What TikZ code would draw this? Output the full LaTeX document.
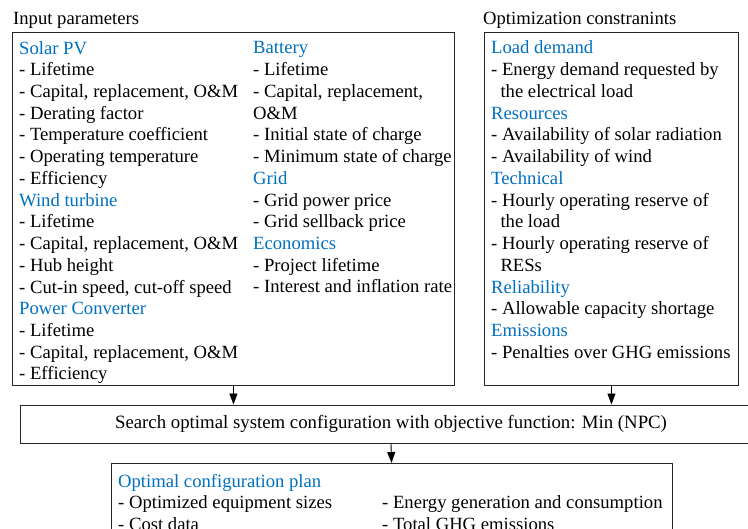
\documentclass[tikz,border=0pt]{standalone}
\usepackage{fontspec}
\setmainfont{Liberation Serif}
\usepackage{tikz}
\usetikzlibrary{arrows.meta,positioning}
\definecolor{headblue}{HTML}{0070C0}
\newcommand{\hd}[1]{\textcolor{headblue}{#1}}

\begin{document}
\begin{tikzpicture}[x=1pt,y=-1pt,
    box/.style={draw=black!85,line width=0.9pt,inner sep=0pt},
    txt/.style={inner sep=0pt,align=left,anchor=base west,
      font=\fontsize{18.65}{21.73}\selectfont},
    flow/.style={line width=0.9pt,-{Triangle[length=11pt,width=8pt]}}]
  \clip (0,0) rectangle (748,529);

  \node[txt] (inlabel) at (13,25) {Input parameters};
  \node[txt] (limlabel) at (483,25) {Optimization constranints};

  \node[box,anchor=north west,minimum width=442,minimum height=353] (inputs) at (12,32) {};
  \node[box,anchor=north west,minimum width=254,minimum height=353] (limits) at (484,32) {};
  \node[box,minimum width=742,minimum height=38,
    font=\fontsize{18.8}{21.73}\selectfont] (search) at (391,424)
    {Search optimal system configuration with objective function: Min (NPC)};
  \node[box,anchor=north,minimum width=561,minimum height=100] (plan) at (391.5,463) {};

  % columns are placed by the baseline of their last line
  \node[txt] (pvcol) at (19,380) {\hd{Solar PV}\\
    - Lifetime\\
    - Capital, replacement, O\&M\\
    - Derating factor\\
    - Temperature coefficient\\
    - Operating temperature\\
    - Efficiency\\
    \hd{Wind turbine}\\
    - Lifetime\\
    - Capital, replacement, O\&M\\
    - Hub height\\
    - Cut-in speed, cut-off speed\\
    \hd{Power Converter}\\
    - Lifetime\\
    - Capital, replacement, O\&M\\
    - Efficiency};
  \node[txt] (batcol) at (253,293) {\hd{Battery}\\
    - Lifetime\\
    - Capital, replacement,\\
    O\&M\\
    - Initial state of charge\\
    - Minimum state of charge\\
    \hd{Grid}\\
    - Grid power price\\
    - Grid sellback price\\
    \hd{Economics}\\
    - Project lifetime\\
    - Interest and inflation rate};
  \node[txt] (limcol) at (491,358.2) {\hd{Load demand}\\
    - Energy demand requested by\\
    \hspace*{0.5em}the electrical load\\
    \hd{Resources}\\
    - Availability of solar radiation\\
    - Availability of wind\\
    \hd{Technical}\\
    - Hourly operating reserve of\\
    \hspace*{0.5em}the load\\
    - Hourly operating reserve of\\
    \hspace*{0.5em}RESs\\
    \hd{Reliability}\\
    - Allowable capacity shortage\\
    \hd{Emissions}\\
    - Penalties over GHG emissions};
  \node[txt] (plancol) at (118,530.5) {\hd{Optimal configuration plan}\\
    - Optimized equipment sizes\\
    - Cost data};
  \node[txt] (plancol2) at (382,530.4) {- Energy generation and consumption\\
    - Total GHG emissions};

  \draw[flow] (inputs.south) -- (inputs.south |- search.north);
  \draw[flow] (limits.south) -- (limits.south |- search.north);
  \draw[flow] (search.south) -- (plan.north);
\end{tikzpicture}
\end{document}
